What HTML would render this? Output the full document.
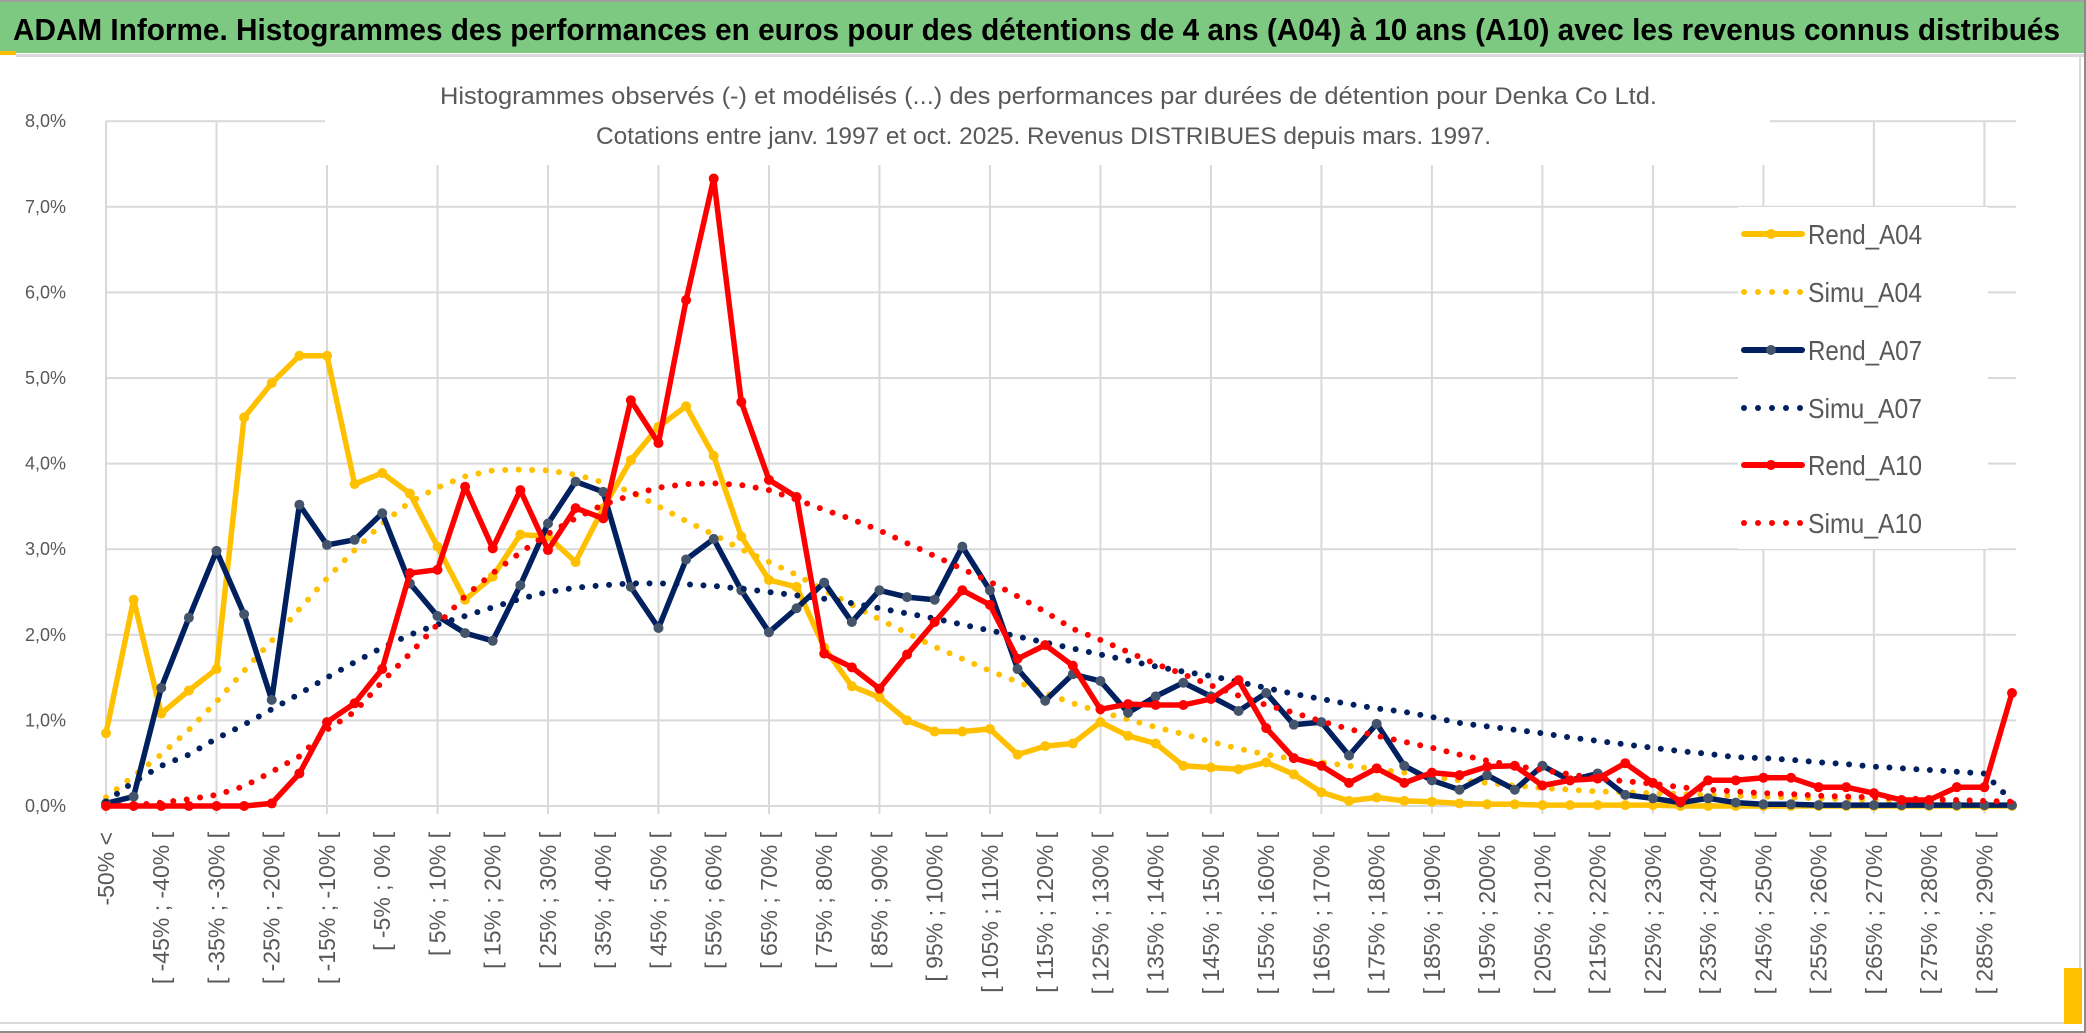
<!DOCTYPE html>
<html><head><meta charset="utf-8"><style>
html,body{margin:0;padding:0;background:#fff;}
svg{display:block;font-family:"Liberation Sans Narrow","Liberation Sans",sans-serif;}
</style></head><body>
<svg id="chart" width="2086" height="1033" viewBox="0 0 2086 1033" xmlns="http://www.w3.org/2000/svg">
<rect x="0" y="0" width="2086" height="1033" fill="#fff"/>
<rect x="0" y="0" width="2086" height="2" fill="#a0a0a0"/>
<rect x="0" y="2" width="2086" height="51" fill="#7ec982"/>
<rect x="0" y="51" width="16" height="4" fill="#ffc000"/>
<rect x="16" y="54" width="2070" height="3" fill="#d9d9d9"/>
<text x="13" y="40" font-size="31" font-weight="bold" fill="#000" textLength="2047" lengthAdjust="spacingAndGlyphs">ADAM Informe. Histogrammes des performances en euros pour des détentions de 4 ans (A04) à 10 ans (A10) avec les revenus connus distribués</text>
<g id="grid"></g>
<rect x="325" y="60" width="1445" height="105" fill="#fff"/>
<text x="440" y="104" font-size="24" fill="#595959" textLength="1217" lengthAdjust="spacingAndGlyphs">Histogrammes observés (-) et modélisés (...) des performances par durées de détention pour Denka Co Ltd.</text>
<text x="596" y="144" font-size="24" fill="#595959" textLength="895" lengthAdjust="spacingAndGlyphs">Cotations entre janv. 1997 et oct. 2025. Revenus DISTRIBUES depuis mars. 1997.</text>
<g id="yaxis"></g>
<g id="xaxis"></g>
<g id="series"></g>
<g id="legend"></g>
<rect x="0" y="1022" width="2080" height="2" fill="#d9d9d9"/>
<rect x="0" y="1031" width="2086" height="2" fill="#8c8c8c"/>
<rect x="2079" y="57" width="2" height="966" fill="#d9d9d9"/>
<rect x="2084" y="0" width="2" height="1033" fill="#8c8c8c"/>
<rect x="2064" y="968" width="18" height="56" fill="#ffc000"/>
</svg>
<script>
const categories = ["-50% <","[ -50% ; -45% [","[ -45% ; -40% [","[ -40% ; -35% [","[ -35% ; -30% [","[ -30% ; -25% [","[ -25% ; -20% [","[ -20% ; -15% [","[ -15% ; -10% [","[ -10% ; -5% [","[ -5% ; 0% [","[ 0% ; 5% [","[ 5% ; 10% [","[ 10% ; 15% [","[ 15% ; 20% [","[ 20% ; 25% [","[ 25% ; 30% [","[ 30% ; 35% [","[ 35% ; 40% [","[ 40% ; 45% [","[ 45% ; 50% [","[ 50% ; 55% [","[ 55% ; 60% [","[ 60% ; 65% [","[ 65% ; 70% [","[ 70% ; 75% [","[ 75% ; 80% [","[ 80% ; 85% [","[ 85% ; 90% [","[ 90% ; 95% [","[ 95% ; 100% [","[ 100% ; 105% [","[ 105% ; 110% [","[ 110% ; 115% [","[ 115% ; 120% [","[ 120% ; 125% [","[ 125% ; 130% [","[ 130% ; 135% [","[ 135% ; 140% [","[ 140% ; 145% [","[ 145% ; 150% [","[ 150% ; 155% [","[ 155% ; 160% [","[ 160% ; 165% [","[ 165% ; 170% [","[ 170% ; 175% [","[ 175% ; 180% [","[ 180% ; 185% [","[ 185% ; 190% [","[ 190% ; 195% [","[ 195% ; 200% [","[ 200% ; 205% [","[ 205% ; 210% [","[ 210% ; 215% [","[ 215% ; 220% [","[ 220% ; 225% [","[ 225% ; 230% [","[ 230% ; 235% [","[ 235% ; 240% [","[ 240% ; 245% [","[ 245% ; 250% [","[ 250% ; 255% [","[ 255% ; 260% [","[ 260% ; 265% [","[ 265% ; 270% [","[ 270% ; 275% [","[ 275% ; 280% [","[ 280% ; 285% [","[ 285% ; 290% [","[ 290% ; 295% ["];
const yTicks = [0,1,2,3,4,5,6,7,8];
const yTickLabels = ["0,0%","1,0%","2,0%","3,0%","4,0%","5,0%","6,0%","7,0%","8,0%"];
const seriesNames = ["Rend_A04","Simu_A04","Rend_A07","Simu_A07","Rend_A10","Simu_A10"];
const rendA04 = [0.85,2.41,1.08,1.35,1.6,4.54,4.94,5.26,5.26,3.76,3.89,3.65,3.03,2.41,2.68,3.17,3.15,2.85,3.48,4.04,4.43,4.67,4.09,3.15,2.64,2.56,1.85,1.4,1.27,1.0,0.87,0.87,0.9,0.6,0.7,0.73,0.98,0.82,0.73,0.47,0.45,0.43,0.51,0.37,0.16,0.06,0.1,0.06,0.05,0.03,0.02,0.02,0.01,0.01,0.01,0.01,0.01,0,0,0,0,0,0,0,0,0,0,0,0,0];
const simuA04 = [0.1,0.35,0.6,0.89,1.22,1.58,1.93,2.3,2.66,2.99,3.3,3.55,3.72,3.85,3.92,3.93,3.92,3.87,3.78,3.67,3.5,3.33,3.17,3.0,2.85,2.7,2.52,2.35,2.18,2.02,1.86,1.72,1.58,1.45,1.32,1.2,1.1,1.01,0.92,0.84,0.75,0.67,0.6,0.55,0.51,0.47,0.43,0.39,0.34,0.3,0.27,0.24,0.21,0.19,0.17,0.16,0.15,0.14,0.13,0.12,0.11,0.1,0.09,0.08,0.07,0.06,0.05,0.04,0.03,0.02];
const rendA07 = [0.03,0.11,1.38,2.2,2.98,2.24,1.24,3.52,3.05,3.11,3.42,2.6,2.22,2.02,1.93,2.58,3.3,3.79,3.67,2.56,2.08,2.88,3.12,2.52,2.03,2.31,2.61,2.15,2.52,2.44,2.41,3.03,2.52,1.6,1.23,1.54,1.46,1.09,1.28,1.44,1.28,1.11,1.32,0.95,0.98,0.59,0.96,0.47,0.3,0.19,0.36,0.19,0.47,0.3,0.38,0.13,0.09,0.04,0.09,0.04,0.02,0.02,0.01,0.01,0.01,0.01,0.01,0.01,0.01,0.01];
const simuA07 = [0.05,0.28,0.47,0.6,0.79,0.95,1.13,1.31,1.5,1.68,1.85,2.0,2.12,2.22,2.32,2.42,2.5,2.55,2.58,2.6,2.6,2.59,2.57,2.54,2.5,2.46,2.42,2.37,2.31,2.25,2.19,2.12,2.05,1.98,1.91,1.84,1.77,1.7,1.63,1.57,1.52,1.45,1.38,1.31,1.25,1.19,1.14,1.1,1.04,0.97,0.93,0.89,0.85,0.8,0.76,0.72,0.68,0.64,0.61,0.57,0.56,0.54,0.51,0.49,0.46,0.44,0.42,0.4,0.38,0.06];
const rendA10 = [0,0,0,0,0,0,0.03,0.38,0.98,1.2,1.6,2.72,2.76,3.73,3.01,3.69,2.99,3.48,3.36,4.74,4.24,5.91,7.33,4.72,3.81,3.61,1.78,1.62,1.37,1.77,2.15,2.52,2.35,1.72,1.88,1.64,1.13,1.19,1.18,1.18,1.25,1.47,0.91,0.56,0.47,0.27,0.44,0.27,0.39,0.36,0.46,0.47,0.24,0.3,0.32,0.5,0.27,0.05,0.3,0.3,0.33,0.33,0.22,0.22,0.15,0.07,0.07,0.22,0.22,1.32];
const simuA10 = [0,0.01,0.04,0.08,0.13,0.23,0.4,0.58,0.89,1.1,1.45,1.78,2.12,2.45,2.72,2.96,3.18,3.36,3.52,3.63,3.72,3.76,3.77,3.75,3.69,3.58,3.46,3.35,3.22,3.07,2.92,2.77,2.62,2.45,2.27,2.07,1.94,1.8,1.66,1.54,1.41,1.29,1.18,1.09,0.99,0.9,0.82,0.75,0.68,0.6,0.53,0.47,0.42,0.37,0.32,0.29,0.26,0.22,0.19,0.17,0.15,0.14,0.12,0.11,0.1,0.09,0.08,0.07,0.06,0.05];

const NS = "http://www.w3.org/2000/svg";
const X0 = 106, X1 = 2012, Y0 = 806, PERPCT = 85.6;
function xPos(i){ return X0 + i * (X1 - X0) / (categories.length - 1); }
function yPos(v){ return Y0 - v * PERPCT; }
function mk(tag, attrs, parent){
  const e = document.createElementNS(NS, tag);
  for (const k in attrs) e.setAttribute(k, attrs[k]);
  parent.appendChild(e);
  return e;
}
const grid = document.getElementById('grid');
yTicks.forEach(function(t){
  const l = mk('line', {x1: X0, x2: X1 + 4, y1: yPos(t), y2: yPos(t), stroke: '#d9d9d9', 'stroke-width': 2}, grid);
  
  
});
categories.forEach(function(c, i){
  if (i % 4 === 0) {
    const l = mk('line', {x1: xPos(i), x2: xPos(i), y1: yPos(8), y2: Y0 + 8, stroke: '#d9d9d9', 'stroke-width': 2}, grid);
    
    
  }
});
const yaxis = document.getElementById('yaxis');
yTicks.forEach(function(t, k){
  const tx = mk('text', {x: 66, y: yPos(t) + 6, 'font-size': 18, fill: '#595959', 'text-anchor': 'end'}, yaxis);
  tx.textContent = yTickLabels[k];
  
  
});
const xaxis = document.getElementById('xaxis');
categories.forEach(function(c, i){
  if (i % 2 !== 0) return;
  const x = xPos(i) + 8, y = 832;
  const tx = mk('text', {x: x, y: y, 'font-size': 23, fill: '#595959', 'text-anchor': 'end', 'font-family': '"Liberation Sans", sans-serif', transform: 'rotate(-90 ' + x + ' ' + y + ')'}, xaxis);
  tx.textContent = c;
  
  
});
const styles = [
  {data: rendA04, color: '#ffc000', dotted: false, marker: '#ffc000'},
  {data: simuA04, color: '#ffc000', dotted: true},
  {data: rendA07, color: '#002060', dotted: false, marker: '#44546a'},
  {data: simuA07, color: '#002060', dotted: true},
  {data: rendA10, color: '#ff0000', dotted: false, marker: '#ff0000'},
  {data: simuA10, color: '#ff0000', dotted: true}
];
const sg = document.getElementById('series');
styles.forEach(function(s, si){
  const g = mk('g', {}, sg);
  
  
  const pts = s.data.map(function(v, i){ return xPos(i).toFixed(1) + ',' + yPos(v).toFixed(1); }).join(' ');
  const attrs = {points: pts, fill: 'none', stroke: s.color, 'stroke-linejoin': 'round', 'stroke-linecap': 'round'};
  if (s.dotted) { attrs['stroke-width'] = 6; attrs['stroke-dasharray'] = '0 13.5'; }
  else { attrs['stroke-width'] = 5.5; }
  const pl = mk('polyline', attrs, g);
  
  
  if (!s.dotted) {
    s.data.forEach(function(v, i){
      const c = mk('circle', {cx: xPos(i), cy: yPos(v), r: 5, fill: s.marker}, g);
      
      
    });
  }
});
const lg = document.getElementById('legend');
const bg = mk('rect', {x: 1738, y: 207, width: 250, height: 342, fill: '#fff'}, lg);


const rowY = [234, 292, 350, 408, 465, 523];
styles.forEach(function(s, si){
  const y = rowY[si];
  const g = mk('g', {}, lg);
  
  
  if (s.dotted) {
    const l = mk('line', {x1: 1744, x2: 1804, y1: y, y2: y, stroke: s.color, 'stroke-width': 6, 'stroke-linecap': 'round', 'stroke-dasharray': '0 14'}, g);
    
    
  } else {
    const l = mk('line', {x1: 1744, x2: 1802, y1: y, y2: y, stroke: s.color, 'stroke-width': 6, 'stroke-linecap': 'round'}, g);
    
    
    const c = mk('circle', {cx: 1771, cy: y, r: 5, fill: s.marker}, g);
    
    
  }
  const t = mk('text', {x: 1808, y: y + 10, 'font-size': 28, fill: '#595959', textLength: 114, lengthAdjust: 'spacingAndGlyphs'}, g);
  t.textContent = seriesNames[si];
  
  
});
</script>
</body></html>
